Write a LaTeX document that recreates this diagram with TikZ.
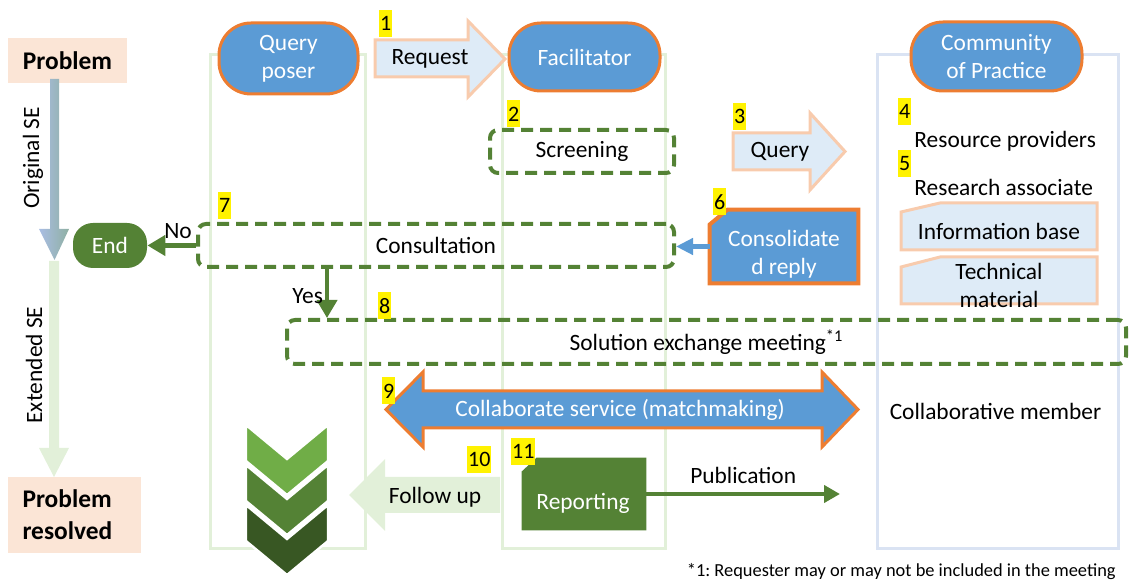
\documentclass[tikz,border=0pt]{standalone}
\usepackage{fontspec}
\setmainfont{Carlito}
\usetikzlibrary{arrows.meta}
\definecolor{pillblue}{HTML}{5B9BD5}
\definecolor{pillorange}{HTML}{ED7D31}
\definecolor{paleblue}{HTML}{DEEBF7}
\definecolor{palepeach}{HTML}{F8CBAD}
\definecolor{peach}{HTML}{FBE5D6}
\definecolor{dgreen}{HTML}{548235}
\definecolor{lgreen}{HTML}{70AD47}
\definecolor{xgreen}{HTML}{385723}
\definecolor{lanegreen}{HTML}{E2F0D9}
\definecolor{laneblue}{HTML}{DAE3F3}
\definecolor{seleft}{HTML}{A9BDE3}
\definecolor{seright}{HTML}{8FB0A3}
\tikzset{
  lane/.style={draw=lanegreen, line width=1.5pt},
  pill/.style={draw=pillorange, fill=pillblue, line width=1.5pt, rounded corners=16pt, text=white, align=center},
  dashbox/.style={draw=dgreen, line width=2pt, dash pattern=on 6pt off 3.5pt, rounded corners=4pt},
  num/.style={fill=yellow, inner xsep=0.4pt, inner ysep=0pt, minimum height=13.5pt, font=\fontsize{11}{13}\selectfont, anchor=north west},
  greenline/.style={draw=dgreen, line width=2.5pt, -{Triangle[length=9pt,width=10pt]}},
  blockarrow/.style={fill=paleblue, draw=palepeach, line width=1.5pt},
  snipbox/.style={fill=paleblue, draw=palepeach, line width=1.5pt},
  chevron/.style={draw=white, line width=1.2pt},
  peachbox/.style={fill=peach, font=\bfseries\fontsize{12.7}{16}\selectfont}
}
\begin{document}
\frenchspacing
\begin{tikzpicture}[x=0.5pt, y=-0.5pt, every node/.style={font=\fontsize{11.7}{14}\selectfont, inner sep=1pt}]
\useasboundingbox (0,0) rectangle (1129,581);
\draw[lane] (210,55) rectangle (365,549);
\draw[lane] (502,55) rectangle (665,549);
\draw[lane, draw=laneblue] (877,55) rectangle (1118,549);

\node[peachbox, minimum width=59.5pt, minimum height=22.5pt] (problem) at (67.5,60.5) {Problem};
\node[peachbox, minimum width=66.5pt, minimum height=38pt, text width=52pt, align=left] (resolved) at (74.5,515) {Problem\\resolved};
\shade[left color=seleft, right color=seright] (50,79) -- (59,79) -- (59,229) -- (69,229) -- (54.5,260) -- (39,229) -- (50,229) -- cycle;
\node[rotate=90] (origse) at (33,158) {Original SE};
\fill[lanegreen] (49,261) -- (59,261) -- (59,448) -- (69,448) -- (54,477) -- (39,448) -- (49,448) -- cycle;
\node[rotate=90] (extse) at (34,365) {Extended SE};

\node[pill, minimum width=69.5pt, minimum height=35.5pt] (poser) at (288.5,58.5) {Query\\poser};
\node[pill, minimum width=75.5pt, minimum height=34pt] (facil) at (584.5,57) {Facilitator};
\node[pill, minimum width=85.5pt, minimum height=34.5pt] (cop) at (996.5,56.5) {Community\\of Practice};

\draw[blockarrow] (375,40) -- (468,40) -- (468,21) -- (505,59) -- (468,97) -- (468,77) -- (375,77) -- cycle;
\node (request) at (430,59) {Request};
\draw[blockarrow] (733,133) -- (810,133) -- (810,113) -- (845,151.5) -- (810,190) -- (810,170) -- (733,170) -- cycle;
\node (query) at (780,152) {Query};

\node[dashbox, minimum width=92pt, minimum height=21.5pt] (screen) at (582,151.5) {Screening};
\node[dashbox, minimum width=238pt, minimum height=21.5pt] (consult) at (436,245.5) {Consultation};
\node[dashbox, minimum width=419.5pt, minimum height=22pt] (solution) at (706.5,342) {Solution exchange meeting\textsuperscript{*1}};

\node[anchor=west] (provider) at (912,141) {Resource providers};
\node[anchor=west] (associate) at (912,187) {Research associate};
\draw[snipbox] (940,203) -- (1097,203) -- (1097,250) -- (901,250) -- (901,212) -- cycle;
\node (infobase) at (999,231) {Information base};
\draw[snipbox] (940,257) -- (1097,257) -- (1097,304) -- (901,304) -- (901,267) -- cycle;
\node[align=center] (techmat) at (999,285) {Technical\\material};

\node[minimum width=74pt, minimum height=36.5pt] (reply) at (784,246.5) {};
\draw[fill=pillblue, draw=pillorange, line width=2pt] ([yshift=-7.5pt]reply.north west) -- ([xshift=9pt]reply.north west) -- (reply.north east) -- (reply.south east) -- (reply.south west) -- cycle;
\node[text=white, align=center] (replytext) at (784,254) {Consolidate\\d reply};
\draw[draw=pillblue, line width=2.5pt, -{Triangle[length=8.5pt,width=8pt]}] (reply.west) -- (reply.west -| consult.east);

\node[fill=dgreen, text=white, rounded corners=10pt, minimum width=37pt, minimum height=22.5pt] (endbox) at (110,245.5) {End};
\draw[greenline] (consult.west) -- (endbox.east) node[pos=0.37, above, inner sep=2pt] (nolabel) {No};
\coordinate (yesx) at (327,0);
\draw[greenline, line width=2pt] (consult.south -| yesx) -- (solution.north -| yesx) node[pos=0.55, left] (yeslabel) {Yes};

\draw[fill=pillblue, draw=pillorange, line width=1.5pt] (386,409.5) -- (423,372) -- (423,391) -- (822,391) -- (822,372) -- (858,409.5) -- (822,447) -- (822,428) -- (423,428) -- (423,447) -- cycle;
\node[text=white] (collab) at (620,410) {Collaborate service (matchmaking)};
\node (member) at (995.5,411) {Collaborative member};

\foreach \y/\c in {505/xgreen, 465/dgreen, 425/lgreen}
  \filldraw[chevron, fill=\c] (246,\y) -- (287,\y+34) -- (328,\y) -- (328,\y+36) -- (287,\y+70) -- (246,\y+36) -- cycle;

\fill[lanegreen] (349,495) -- (385,459) -- (385,477) -- (500,477) -- (500,513) -- (385,513) -- (385,531) -- cycle;
\node (followup) at (435,497) {Follow up};

\node[minimum width=62pt, minimum height=36pt] (report) at (584,494) {};
\fill[dgreen] ([yshift=-7pt]report.north west) -- ([xshift=7.5pt]report.north west) -- (report.north east) -- (report.south east) -- (report.south west) -- cycle;
\node[text=white] (reporttext) at (583,503) {Reporting};
\coordinate (pubend) at (840,494);
\draw[greenline, line width=2pt, -{Triangle[length=8pt,width=8.5pt]}] (report.east) -- (pubend) node[midway, above, inner sep=4pt] (publabel) {Publication};

\node[num] (n1) at (379,10) {1};
\node[num] (n2) at (507,100) {2};
\node[num] (n3) at (733,103) {3};
\node[num] (n4) at (898,98) {4};
\node[num] (n5) at (898,150) {5};
\node[num] (n6) at (713,188) {6};
\node[num] (n7) at (218,192) {7};
\node[num] (n8) at (378,292) {8};
\node[num] (n9) at (382,377) {9};
\node[num] (n10) at (467,446) {10};
\node[num] (n11) at (511,438) {11};

\node[anchor=east, font=\fontsize{9.2}{11}\selectfont] (footnote) at (1118,572) {*1: Requester may or may not be included in the meeting};
\end{tikzpicture}
\end{document}
